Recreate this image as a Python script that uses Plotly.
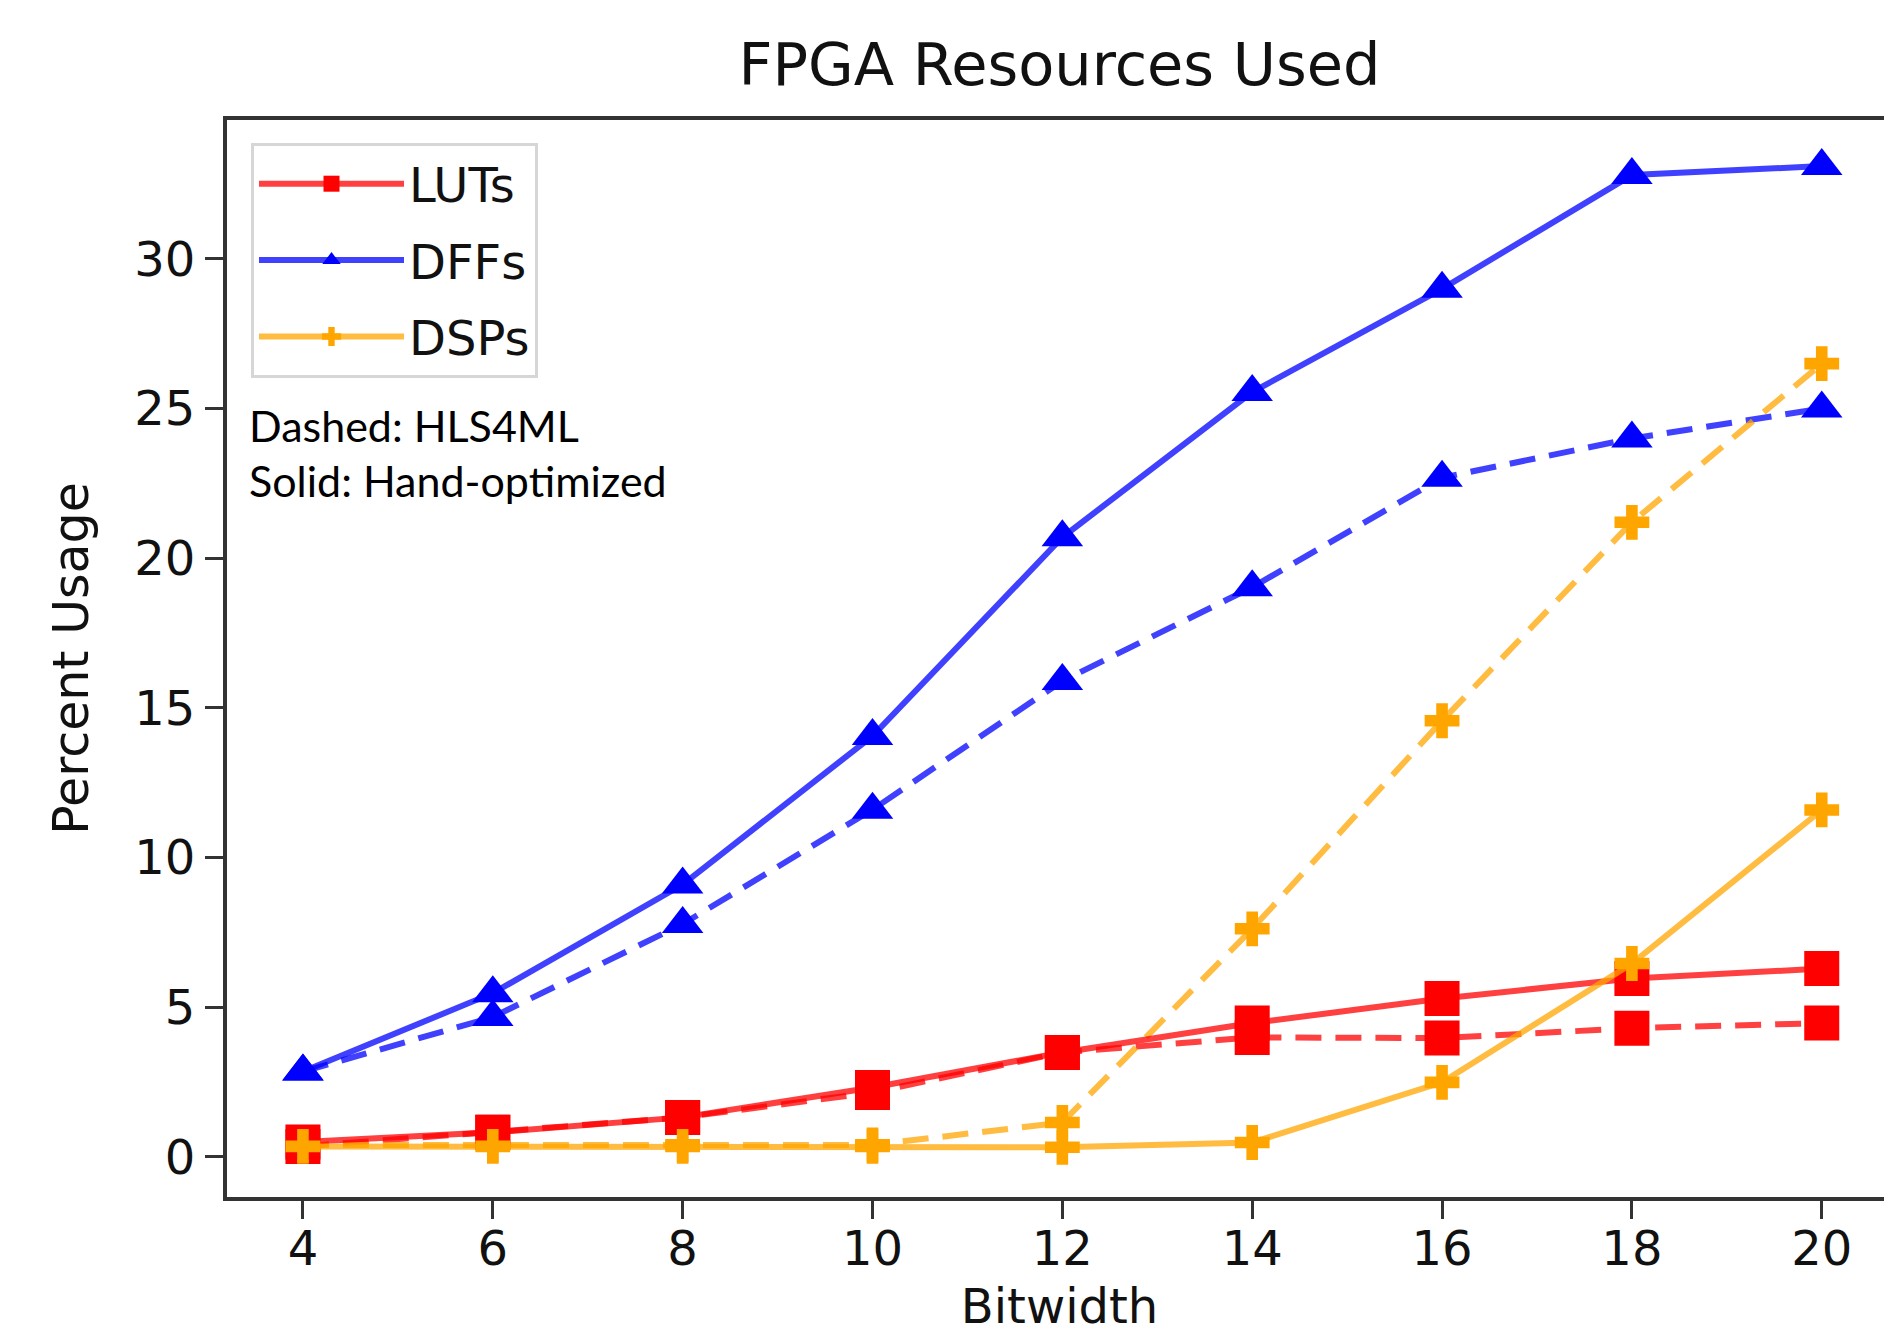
import plotly.graph_objects as go

# ---- data ----
bitwidth = [4, 6, 8, 10, 12, 14, 16, 18, 20]

luts_hand = [0.50, 0.82, 1.32, 2.32, 3.49, 4.47, 5.29, 5.96, 6.29]
luts_hls = [0.35, 0.82, 1.32, 2.15, 3.49, 3.99, 3.97, 4.30, 4.47]

dffs_hand = [2.85, 5.47, 9.10, 14.06, 20.70, 25.55, 29.00, 32.80, 33.10]
dffs_hls = [2.85, 4.67, 7.78, 11.60, 15.90, 19.03, 22.69, 24.00, 25.00]

dsps_hand = [0.35, 0.35, 0.35, 0.35, 0.32, 0.48, 2.49, 6.46, 11.59]
dsps_hls = [0.40, 0.40, 0.40, 0.40, 1.15, 7.62, 14.57, 21.20, 26.50]

series_names = ["LUTs", "DFFs", "DSPs"]
y_ticks = [0, 5, 10, 15, 20, 25, 30]

# ---- styling ----
OFF = 8  # default page margin around the figure in the html page
PAGE_W, PAGE_H = 1892, 1344
W, H = PAGE_W, PAGE_H - 2 * OFF
# plot area edges, in page pixels
P_LEFT, P_TOP, P_BOTTOM, P_RIGHT = 227, 120, 1197, 1892
L = P_LEFT - OFF
T = P_TOP - OFF
B = H - (P_BOTTOM - OFF)
R = W - (P_RIGHT - OFF)

marker_color = {"LUTs": "#ff0000", "DFFs": "#0000ff", "DSPs": "#ffa500"}
line_color = {"LUTs": "rgba(255,0,0,0.75)", "DFFs": "rgba(0,0,255,0.75)",
              "DSPs": "rgba(255,165,0,0.75)"}
symbol = {"LUTs": "square", "DFFs": "triangle-up", "DSPs": "cross"}
msize = {"LUTs": 35, "DFFs": 36, "DSPs": 29}
LW = 6
DASH = "26px,14px"

hand = {"LUTs": luts_hand, "DFFs": dffs_hand, "DSPs": dsps_hand}
hls = {"LUTs": luts_hls, "DFFs": dffs_hls, "DSPs": dsps_hls}

fig = go.Figure()

# dashed (HLS4ML) first, underneath
for name in series_names:
    fig.add_trace(go.Scatter(
        x=bitwidth, y=hls[name], mode="lines+markers", name=name + " (HLS4ML)",
        legendgroup=name, showlegend=False,
        line=dict(color=line_color[name], width=LW, dash=DASH),
        marker=dict(symbol=symbol[name], size=msize[name], color=marker_color[name],
                    line=dict(width=0)),
    ))

# solid (hand-optimized) on top, these carry the legend
for name in series_names:
    fig.add_trace(go.Scatter(
        x=bitwidth, y=hand[name], mode="lines+markers", name=name,
        legendgroup=name, showlegend=True,
        line=dict(color=line_color[name], width=LW),
        marker=dict(symbol=symbol[name], size=msize[name], color=marker_color[name],
                    line=dict(width=0)),
    ))

plot_w = W - L - R
plot_h = H - T - B


def px_x(p):  # page pixel -> paper fraction
    return (p - OFF - L) / plot_w


def px_y(p):
    return (H - B - (p - OFF)) / plot_h


axis_color = "#333333"
text_color = "#111111"

fig.update_layout(
    width=W, height=H,
    margin=dict(l=L, r=R, t=T, b=B, pad=0, autoexpand=False),
    paper_bgcolor="white", plot_bgcolor="white",
    font=dict(family="DejaVu Sans", size=48, color=text_color),
    title=dict(text="FPGA Resources Used", x=0.5, xref="paper", xanchor="center",
               y=1 - (64 - OFF) / H, yref="container", yanchor="middle",
               font=dict(family="DejaVu Sans", size=59, color=text_color)),
    xaxis=dict(range=[3.2, 20.74], tickvals=bitwidth, ticks="outside", ticklen=18,
               tickwidth=3, tickcolor=axis_color, showline=True, linewidth=4,
               linecolor=axis_color, mirror=True, showgrid=False, zeroline=False,
               automargin=False,
               tickfont=dict(size=48), ticklabelstandoff=-12,
               title=dict(text="Bitwidth", font=dict(size=48), standoff=16)),
    yaxis=dict(range=[-1.34, 34.64], tickvals=y_ticks, ticks="outside", ticklen=18,
               tickwidth=3, tickcolor=axis_color, showline=True, linewidth=4,
               linecolor=axis_color, mirror=False, showgrid=False, zeroline=False,
               automargin=False,
               tickfont=dict(size=48), ticklabelstandoff=0,
               title=dict(text="Percent Usage", font=dict(size=49), standoff=31)),
    legend=dict(x=px_x(251), y=px_y(143), xanchor="left", yanchor="top",
                bgcolor="white", bordercolor="#d6d6d6", borderwidth=3,
                font=dict(family="DejaVu Sans", size=48, color=text_color),
                itemwidth=145, traceorder="grouped", tracegroupgap=11,
                itemsizing="trace"),
    annotations=[
        dict(text="Dashed: HLS4ML", xref="paper", yref="paper", x=px_x(247), y=px_y(425),
             xanchor="left", yanchor="middle", showarrow=False,
             font=dict(family="Lato", size=43, color="black")),
        dict(text="Solid: Hand-optimized", xref="paper", yref="paper", x=px_x(247),
             y=px_y(481), xanchor="left", yanchor="middle", showarrow=False,
             font=dict(family="Lato", size=43, color="black")),
    ],
)

fig.write_html("out.html")
